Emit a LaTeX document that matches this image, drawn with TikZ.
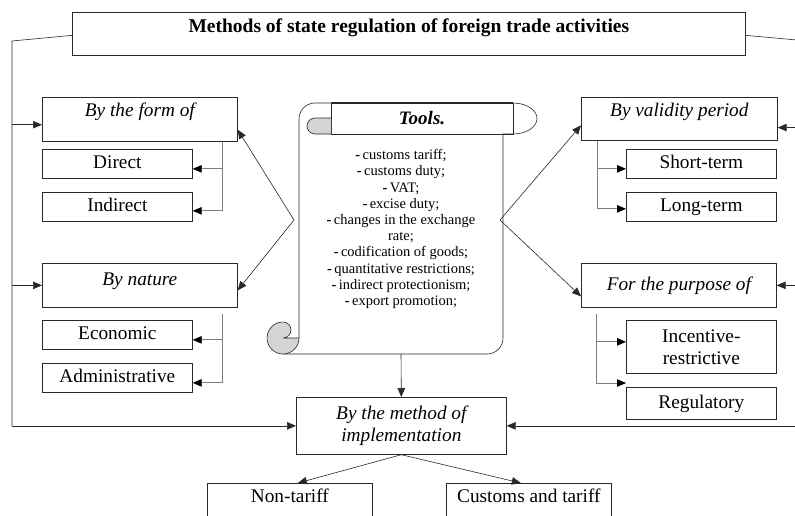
\documentclass[tikz,border=0pt]{standalone}
\usepackage{fontspec}
\setmainfont{Liberation Serif}
\usetikzlibrary{arrows.meta,positioning,calc}
\definecolor{edge}{RGB}{40,40,40}
\definecolor{brgray}{RGB}{125,125,125}
\definecolor{rollfill}{RGB}{212,212,212}
\newcommand{\dashitem}[1]{\textbf{-}\,#1}

\begin{document}
\begin{tikzpicture}[x=1pt,y=-1pt,
    box/.style={draw=edge, line width=0.7pt, inner sep=0pt, anchor=north west,
      font=\fontsize{19.3}{22}\selectfont},
    head/.style={box, font=\fontsize{19.3}{22}\selectfont\itshape},
    sub/.style={box, minimum width=150pt, minimum height=29pt, text height=13pt, text depth=3pt},
    link/.style={draw=edge, line width=0.6pt, -{Triangle[length=9pt,width=7.5pt]}},
    brace/.style={draw=brgray, line width=0.8pt, -{Triangle[length=9pt,width=7.5pt,color=black]}},
    plain/.style={draw=edge, line width=0.6pt}]
  \useasboundingbox (0,0) rectangle (795,515);

  % title and the classification boxes
  \node[box, minimum width=673pt, text height=20pt, text depth=23pt,
    font=\fontsize{19.5}{22}\selectfont\bfseries] (title) at (72,12)
    {Methods of state regulation of foreign trade activities};
  \node[head, minimum width=195pt, text height=19pt, text depth=25pt] (form) at (42,97) {By the form of};
  \node[sub] (direct) at (42,149) {Direct};
  \node[sub] (indirect) at (42,192) {Indirect};
  \node[head, minimum width=195pt, text height=22pt, text depth=22pt] (nature) at (42,263) {By nature};
  \node[sub] (economic) at (42,320) {Economic};
  \node[sub] (admin) at (42,363) {Administrative};

  \node[head, minimum width=196pt, text height=19pt, text depth=24pt] (validity) at (581,97) {By validity period};
  \node[sub] (short) at (626,149) {Short-term};
  \node[sub] (long) at (626,192) {Long-term};
  \node[head, minimum width=195pt, text height=27pt, text depth=17pt] (purpose) at (581,263) {For the purpose of};
  \node[box, minimum width=150pt, minimum height=53pt, align=center] (incent) at (626,320) {Incentive-\\restrictive};
  \node[sub, minimum height=32pt] (regul) at (626,387) {Regulatory};

  \node[head, minimum width=210pt, minimum height=57pt, align=center] (method) at (296,397)
    {By the method of\\implementation};
  \node[box, minimum width=165pt, text height=19pt, text depth=30pt] (nontariff) at (207,483) {Non-tariff};
  \node[box, minimum width=165pt, text height=19pt, text depth=30pt] (customs) at (446,483) {Customs and tariff};

  % scroll with the tools
  \draw[plain, fill=white] (299,338) -- (299,119) arc[start angle=180, end angle=270, radius=16]
    -- (513,103) arc[start angle=-90, end angle=90, x radius=24, y radius=15.5]
    -- (503,134) -- (503,338) arc[start angle=0, end angle=90, radius=16] -- (283,354);
  \draw[plain] (331,103) rectangle (513,134);
  \draw[edge, line width=1.5pt] (331,103) -- (513,103);
  \draw[plain, fill=rollfill] (331,118) -- (315,118) arc[start angle=270, end angle=90, radius=8] -- (331,134);
  \draw[plain, fill=rollfill] (283,338) arc[start angle=90, end angle=-90, radius=8]
    arc[start angle=270, end angle=0, radius=16] -- cycle;
  \node[font=\fontsize{19}{22}\selectfont\bfseries\itshape] (tools) at (422,118) {Tools.};
  \node[align=center, font=\fontsize{14.5}{16.2}\selectfont] (toollist) at (401,229)
    {\dashitem{customs tariff;}\\ \dashitem{customs duty;}\\ \dashitem{VAT;}\\
     \dashitem{excise duty;}\\ \dashitem{changes in the exchange}\\ rate;\\
     \dashitem{codification of goods;}\\ \dashitem{quantitative restrictions;}\\
     \dashitem{indirect protectionism;}\\ \dashitem{export promotion;}};
  \coordinate (toolsL) at (294,220);
  \coordinate (toolsR) at (500,220);
  \coordinate (toolsB) at (401,354);

  % side rails
  \coordinate (lrail) at (12,41);
  \coordinate (rrail) at (797,40);
  \coordinate (formin) at ($(form.north west)!0.62!(form.south west)$);
  \coordinate (validin) at ($(validity.north east)!0.7!(validity.south east)$);
  \draw[plain] ([yshift=-1.5pt]title.west) -- (lrail) -- (lrail |- method.west);
  \draw[plain] ([yshift=-1.5pt]title.east) -- (rrail) -- (rrail |- method.east);
  \draw[link] (lrail |- formin) -- (formin);
  \draw[link] (lrail |- nature.west) -- (nature.west);
  \draw[link] (lrail |- method.west) -- (method.west);
  \draw[link] (rrail |- validin) -- (validin);
  \draw[link] (rrail |- purpose.east) -- (purpose.east);
  \draw[link] (rrail |- method.east) -- (method.east);

  % brackets
  \coordinate (fb) at ([xshift=-15pt]form.south east);
  \coordinate (nb) at ([xshift=-15pt,yshift=-6pt]nature.south east);
  \coordinate (vb) at ([xshift=16pt]validity.south west);
  \coordinate (pb) at ([xshift=15pt,yshift=-6pt]purpose.south west);
  \draw[brace] (fb) |- ([yshift=-5pt]direct.east);
  \draw[brace] (fb) |- ([yshift=-4pt]indirect.east);
  \draw[brace] (nb) |- ([yshift=-5pt]economic.east);
  \draw[brace] (nb) |- ([yshift=-5pt]admin.east);
  \draw[brace] (vb) |- ([yshift=-5pt]short.west);
  \draw[brace] (vb) |- ([yshift=-2pt]long.west);
  \draw[brace] (pb) |- ([yshift=5pt]incent.west);
  \draw[brace] (pb) |- ([yshift=4pt]regul.north west);

  % tools to the groups
  \draw[link] (toolsL) -- ([yshift=12pt]form.south east);
  \draw[link] (toolsL) -- ([yshift=-5pt]nature.east);
  \draw[link] (toolsR) -- ([yshift=-6.5pt]validity.west);
  \draw[link] (toolsR) -- ([yshift=-11pt]purpose.west);
  \draw[link] (toolsB) -- (method.north);
  \draw[link] (method.south) -- ([xshift=8pt]nontariff.north);
  \draw[link] (method.south) -- ([xshift=-8pt]customs.north);
\end{tikzpicture}
\end{document}
